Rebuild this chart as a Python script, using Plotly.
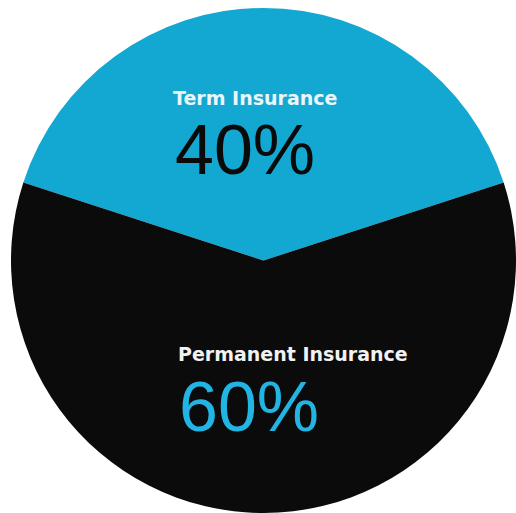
import plotly.graph_objects as go

labels = ["Term Insurance", "Permanent Insurance"]
values = [40, 60]
colors = ["#13A8D2", "#0B0B0B"]
pct_text = ["40%", "60%"]

W, H = 516, 513

fig = go.Figure(go.Pie(
    labels=labels,
    values=values,
    sort=False,
    direction="clockwise",
    rotation=-72,
    marker=dict(colors=colors, line=dict(width=0)),
    textinfo="none",
    hoverinfo="label+percent",
    domain=dict(x=[11 / W, 1.0], y=[0.0, 1 - 8 / H]),
    showlegend=False,
))

def px(x):
    return x / W

def py(y):
    return 1 - y / H

anns = [
    dict(x=px(255), y=py(98), text="<b>" + labels[0] + "</b>",
         font=dict(family="DejaVu Sans, sans-serif", size=19, color="#EAF6FA")),
    dict(x=px(245), y=py(150), text=pct_text[0],
         font=dict(family="Liberation Sans, Arial, sans-serif", size=70, color="#0A0A0A")),
    dict(x=px(293), y=py(354), text="<b>" + labels[1] + "</b>",
         font=dict(family="DejaVu Sans, sans-serif", size=19, color="#F2F2F2")),
    dict(x=px(249), y=py(407), text=pct_text[1],
         font=dict(family="Liberation Sans, Arial, sans-serif", size=70, color="#22B4E2")),
]
for a in anns:
    a.update(xref="paper", yref="paper", showarrow=False, xanchor="center", yanchor="middle")

fig.update_layout(
    width=W, height=H,
    margin=dict(l=0, r=0, t=0, b=0),
    paper_bgcolor="white",
    plot_bgcolor="white",
    annotations=anns,
)

fig.write_html("out.html", config={"displayModeBar": False},
               post_script="document.body.style.margin='0px';document.body.style.overflow='hidden';")
